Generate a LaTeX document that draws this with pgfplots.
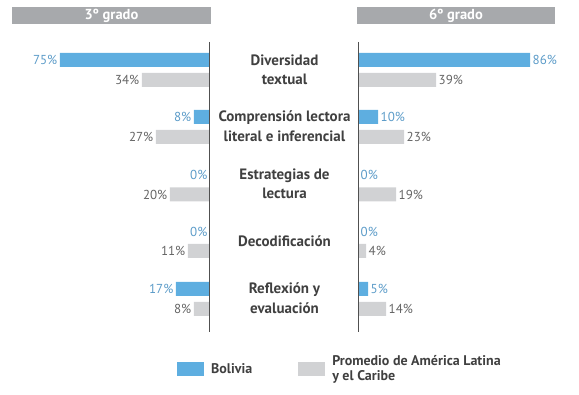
\documentclass[border=0pt]{standalone}
\usepackage{pgfplots}
\pgfplotsset{compat=1.18}
\usepackage{fontspec}
\setmainfont{PT Sans}
\definecolor{barblue}{RGB}{94,174,224}
\definecolor{bargray}{RGB}{209,210,212}
\definecolor{boxgray}{RGB}{167,169,172}
\definecolor{lblblue}{RGB}{91,155,200}
\definecolor{lblgray}{RGB}{100,100,100}
\definecolor{cattext}{RGB}{64,64,64}
\definecolor{axisdark}{RGB}{80,80,80}

\pgfplotsset{
  panel/.style={
    scale only axis, width=200pt, height=290pt,
    xmin=0, xmax=100, ymin=42, ymax=332, y dir=reverse,
    axis lines=none, clip=false,
    xbar, bar width=14pt, bar shift=0pt,
    /pgf/number format/assume math mode=true,
    nodes near coords={\pgfmathprintnumber{\pgfplotspointmeta}\%},
    nodes near coords style={font=\fontsize{13}{15}\selectfont, inner sep=2.5pt},
  },
  swatch/.style={legend image code/.code={\fill[##1] (0pt,-7pt) rectangle (27pt,7pt);}},
}

\begin{document}
\begin{tikzpicture}
\path[use as bounding box] (0,0) rectangle (579pt,395pt);

% Left panel: 3º grado
\begin{axis}[panel, x dir=reverse, at={(10pt,63pt)}, anchor=south west,
  every node near coord/.append style={anchor=east}]
\addplot[fill=barblue, draw=none, every node near coord/.append style={text=lblblue}]
  coordinates {(75,60) (8,117) (0,175) (0,232) (17,289)};
\addplot[fill=bargray, draw=none, every node near coord/.append style={text=lblgray}]
  coordinates {(34,80) (27,137) (20,194.5) (11,251) (8,309)};
\draw[axisdark, line width=1pt] (axis cs:0,42) -- (axis cs:0,332);
\end{axis}

% Right panel: 6º grado
\begin{axis}[panel, at={(358pt,63pt)}, anchor=south west,
  every node near coord/.append style={anchor=west},
  legend columns=2,
  legend style={draw=none, fill=none, at={(-0.92,-0.128)}, anchor=west,
    font=\fontsize{14}{15}\selectfont\bfseries, text=cattext,
    nodes={align=left, inner sep=2pt},
    /tikz/every odd column/.append style={column sep=5pt},
    /tikz/every even column/.append style={column sep=44pt}},
  legend cell align=left]
\addplot[fill=barblue, draw=none, swatch, every node near coord/.append style={text=lblblue}]
  coordinates {(86,60) (10,117) (0,175) (0,232) (5,289)};
\addlegendentry{Bolivia}
\addplot[fill=bargray, draw=none, swatch, every node near coord/.append style={text=lblgray}]
  coordinates {(39,80) (23,137) (19,194.5) (4,251) (14,309)};
\addlegendentry{Promedio de América Latina\\y el Caribe}
\draw[axisdark, line width=1pt] (axis cs:0,42) -- (axis cs:0,332);
\end{axis}

% Title boxes
\node[fill=boxgray, minimum width=199pt, minimum height=17pt, inner sep=0pt,
  text=white, font=\fontsize{14.5}{15}\selectfont\bfseries] at (111.5pt,379.5pt) {3º grado};
\node[fill=boxgray, minimum width=198pt, minimum height=17pt, inner sep=0pt,
  text=white, font=\fontsize{14.5}{15}\selectfont\bfseries] at (456pt,379.5pt) {6º grado};

% Category labels
\begin{scope}[every node/.style={align=center, text=cattext,
  font=\fontsize{15}{19.5}\selectfont\bfseries}]
\node at (284.5pt,325pt) {Diversidad\\textual};
\node at (284.5pt,269pt) {Comprensión lectora\\literal e inferencial};
\node at (284.5pt,211pt) {Estrategias de\\lectura};
\node at (284.5pt,154pt) {Decodificación};
\node at (284.5pt,97pt) {Reflexión y\\evaluación};
\end{scope}
\end{tikzpicture}
\end{document}
